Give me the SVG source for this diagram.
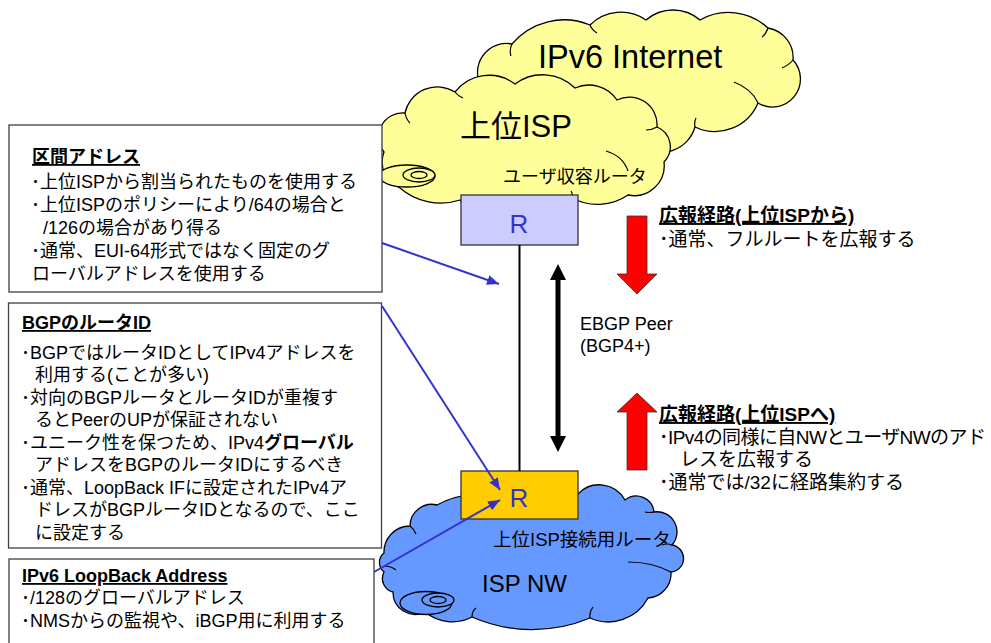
<svg xmlns="http://www.w3.org/2000/svg" width="991" height="643" viewBox="0 0 991 643">
  <defs>
    <style>
      .t { font-family: "Liberation Sans", "Noto Sans CJK JP", sans-serif; font-size: 18px; fill: #000; }
      .h { font-weight: bold; text-decoration: underline; }
      .s19 { font-size: 19px; }
      .box { fill: #fff; stroke: #404040; stroke-width: 1.3; }
      .cloud-y { fill: #FFFF99; stroke: #000; stroke-width: 1.3; }
      .cloud-b { fill: #6699FF; stroke: #000; stroke-width: 1.3; }
      .wr { fill: none; stroke: #000; stroke-width: 1.2; }
      .router { stroke: #333; stroke-width: 1.3; }
      .rl { font-family: "Liberation Sans", sans-serif; font-size: 26px; fill: #3333CC; text-anchor: middle; }
      .blue { stroke: #3333CC; stroke-width: 2; fill: none; marker-end: url(#ah); }
      .red { fill: #FF0000; stroke: #333; stroke-width: 0.8; }
    </style>
    <marker id="ah" viewBox="0 0 12 10" refX="12" refY="5" markerWidth="12" markerHeight="10" markerUnits="userSpaceOnUse" orient="auto">
      <path d="M0,0 L12,5 L0,10 z" fill="#3333CC"/>
    </marker>
  </defs>

  <rect width="991" height="643" fill="#fff"/>

  <!-- IPv6 Internet cloud -->
  <g id="cloud-internet">
    <path class="cloud-y" d="M482,88 A29,29 0 0 1 512,44 A68,68 0 0 1 590,25 A44,44 0 0 1 646,20 A41.5,41.5 0 0 1 700,20 A58,58 0 0 1 768,28 A30,30 0 0 1 793,60 A28,28 0 0 1 758,103 A46.6,46.6 0 0 1 695,127 A35,35 0 0 1 640,145 A50,50 0 0 1 560,120 A50,50 0 0 1 482,88 Z"/>
    <path class="wr" d="M512,44 q-3,6 -1,12 M590,25 q2,5 7,8 M768,28 q-2,6 -6,9 M793,60 q-4,5 -11,8 M758,103 q-6,-14 -24,-21 M695,127 q-1,-5 1,-9"/>
    <text class="t" x="538" y="68" style="font-size:32.5px">IPv6 Internet</text>
  </g>

  <!-- upstream ISP cloud -->
  <g id="cloud-upper-isp">
    <path class="cloud-y" d="M384,152 A24,24 0 0 1 405,113 A33,33 0 0 1 455,92 A43,43 0 0 1 515,84 A46,46 0 0 1 575,88 A34,34 0 0 1 617,100 A27.7,27.7 0 0 1 657,127 A21.4,21.4 0 0 1 664,162 A30,30 0 0 1 628,195 A54,54 0 0 1 572,198 A70,70 0 0 1 460,200 A62,62 0 0 1 400,188 A28,28 0 0 1 384,152 Z"/>
    <path class="wr" d="M405,113 q1,6 5,10 M455,92 q3,4 8,6 M657,127 q-5,3 -11,3 M606,151 q17,5 22,20 M571,191 q2,3 1,7"/>
    <ellipse class="cloud-y" cx="407" cy="176" rx="28" ry="11"/>
    <ellipse class="cloud-y" cx="419" cy="175" rx="16" ry="7"/>
    <ellipse class="cloud-y" cx="419" cy="175" rx="8" ry="3.5"/>
    <text class="t" x="460" y="137" style="font-size:31px">上位ISP</text>
    <text class="t" x="503" y="183">ユーザ収容ルータ</text>
  </g>

  <!-- ISP network cloud -->
  <g id="cloud-isp-nw">
    <path class="cloud-b" d="M384,553 A26,26 0 0 1 410,526 A21.7,21.7 0 0 1 437,505 A80,80 0 0 1 505,500 A50,50 0 0 1 578,494 A29.3,29.3 0 0 1 625,500 A17.8,17.8 0 0 1 654,512 A20,20 0 0 1 672,545 A13.6,13.6 0 0 1 671,572 A24.6,24.6 0 0 1 648,598 A45,45 0 0 1 590,618 A150,150 0 0 1 472,617 A43,43 0 0 1 425,612 A22,22 0 0 1 393,592 A14,14 0 0 1 384,572 A12.2,12.2 0 0 1 384,553 Z"/>
    <path class="wr" d="M410,526 q4,3 6,8 M654,512 q-5,1 -9,0 M672,545 q-5,-2 -10,0 M628,562 q24,0 43,10 M590,618 q-1,-6 3,-11 M472,617 q0,-6 4,-9 M384,566 q7,0 12,4"/>
    <ellipse class="cloud-b" cx="426" cy="603" rx="26" ry="11.5"/>
    <ellipse class="cloud-b" cx="438" cy="600" rx="16" ry="7"/>
    <ellipse class="cloud-b" cx="438" cy="600" rx="8" ry="3.5"/>
    <text class="t" x="493" y="546" style="font-size:18.5px">上位ISP接続用ルータ</text>
    <text class="t" x="482" y="592" style="font-size:24px">ISP NW</text>
  </g>

  <!-- user-facing router -->
  <g id="router-user">
    <rect class="router" x="461" y="195" width="117" height="50" fill="#CCCCFF"/>
    <text class="rl" x="519" y="233">R</text>
  </g>

  <!-- upstream-facing router -->
  <g id="router-upstream">
    <rect class="router" x="461" y="471" width="117" height="48" fill="#FFCC00"/>
    <text class="rl" x="519" y="507">R</text>
  </g>

  <!-- note: link address -->
  <g id="note-link-address">
    <rect class="box" x="9" y="125" width="373" height="167"/>
    <text class="t h" x="32" y="163">区間アドレス</text>
    <text class="t" x="31" y="188">･上位ISPから割当られたものを使用する</text>
    <text class="t" x="31" y="211">･上位ISPのポリシーにより/64の場合と</text>
    <text class="t" x="43" y="234">/126の場合があり得る</text>
    <text class="t" x="31" y="257">･通常、EUI-64形式ではなく固定のグ</text>
    <text class="t" x="32" y="280">ローバルアドレスを使用する</text>
  </g>

  <!-- note: BGP router ID -->
  <g id="note-bgp-router-id">
    <rect class="box" x="8.5" y="303" width="373" height="245"/>
    <text class="t h" x="22" y="329">BGPのルータID</text>
    <text class="t" x="21" y="358.5">･BGPではルータIDとしてIPv4アドレスを</text>
    <text class="t" x="35" y="381">利用する(ことが多い)</text>
    <text class="t" x="21" y="403.5">･対向のBGPルータとルータIDが重複す</text>
    <text class="t" x="35" y="426">るとPeerのUPが保証されない</text>
    <text class="t" x="21" y="448.5">･ユニーク性を保つため、IPv4<tspan font-weight="bold">グローバル</tspan></text>
    <text class="t" x="35" y="471">アドレスをBGPのルータIDにするべき</text>
    <text class="t" x="21" y="493.5">･通常、LoopBack IFに設定されたIPv4ア</text>
    <text class="t" x="35" y="516">ドレスがBGPルータIDとなるので、ここ</text>
    <text class="t" x="35" y="538.5">に設定する</text>
  </g>

  <!-- note: IPv6 loopback -->
  <g id="note-loopback">
    <rect class="box" x="9" y="559" width="365" height="100"/>
    <text class="t h" x="22" y="582">IPv6 LoopBack Address</text>
    <text class="t" x="21" y="604">･/128のグローバルアドレス</text>
    <text class="t" x="21" y="627">･NMSからの監視や、iBGP用に利用する</text>
  </g>

  <!-- routes received from upstream -->
  <g id="routes-from-upstream">
    <text class="t s19 h" x="659" y="222">広報経路(上位ISPから)</text>
    <text class="t s19" x="659" y="246">･通常、フルルートを広報する</text>
  </g>

  <!-- routes announced to upstream -->
  <g id="routes-to-upstream">
    <text class="t s19 h" x="659" y="421">広報経路(上位ISPへ)</text>
    <text class="t s19" x="659" y="444" textLength="327">･IPv4の同様に自NWとユーザNWのアド</text>
    <text class="t s19" x="680" y="466">レスを広報する</text>
    <text class="t s19" x="659" y="489">･通常では/32に経路集約する</text>
  </g>

  <!-- EBGP session label -->
  <g id="ebgp-label">
    <text class="t" x="580" y="330">EBGP Peer</text>
    <text class="t" x="580" y="352">(BGP4+)</text>
  </g>

  <!-- connectors -->
  <g id="connectors">
    <line x1="519.5" y1="245" x2="519.5" y2="471" stroke="#000" stroke-width="2"/>
    <path d="M558,264 L566,280 L560.5,280 L560.5,436 L566,436 L558,452 L550,436 L555.5,436 L555.5,280 L550,280 Z" fill="#000"/>
    <path class="red" d="M627,216 L647,216 L647,274 L657,274 L637,294 L617,274 L627,274 Z"/>
    <path class="red" d="M637,393 L657,412 L647,412 L647,470 L627,470 L627,412 L617,412 Z"/>
    <line class="blue" x1="382" y1="243" x2="499" y2="284"/>
    <line class="blue" x1="382" y1="306" x2="500" y2="490"/>
    <line class="blue" x1="374" y1="572" x2="500" y2="500"/>
  </g>
</svg>
